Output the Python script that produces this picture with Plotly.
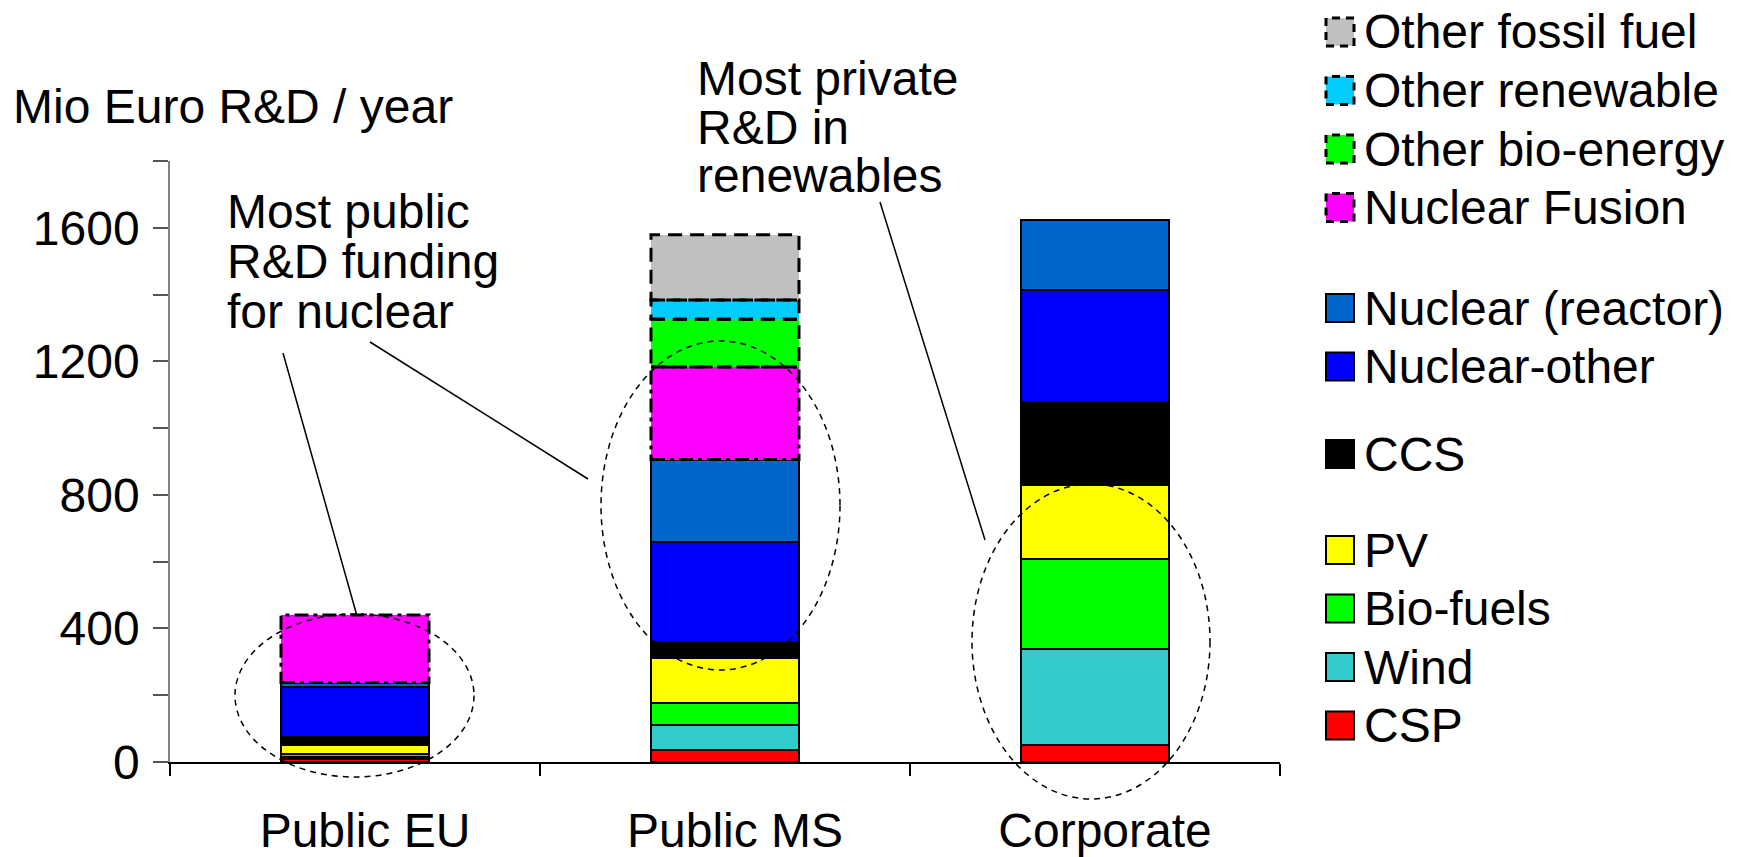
import plotly.graph_objects as go

# ---- data (Mio Euro R&D per year) ----
categories = ["Public EU", "Public MS", "Corporate"]

csp = [8, 35, 52]
wind = [6, 75, 286]
biofuels = [10, 68, 270]
pv = [28, 133, 222]
ccs = [24, 47, 249]
nuclear_other = [150, 302, 335]
nuclear_reactor = [12, 246, 210]
nuclear_fusion = [202, 277, 0]
other_bioenergy = [0, 143, 0]
other_renewable = [0, 58, 0]
other_fossil = [0, 195, 0]

# stacking order, bottom to top: (name, values, fill colour, outline style)
series = [
    ("CSP", csp, "#FF0000", "solid"),
    ("Wind", wind, "#33CCCC", "solid"),
    ("Bio-fuels", biofuels, "#00FF00", "solid"),
    ("PV", pv, "#FFFF00", "solid"),
    ("CCS", ccs, "#000000", "solid"),
    ("Nuclear-other", nuclear_other, "#0000FF", "solid"),
    ("Nuclear (reactor)", nuclear_reactor, "#0066CC", "solid"),
    ("Nuclear Fusion", nuclear_fusion, "#FF00FF", "dashdot"),
    ("Other bio-energy", other_bioenergy, "#00FF00", "dash"),
    ("Other renewable", other_renewable, "#00CCFF", "dash"),
    ("Other fossil fuel", other_fossil, "#C0C0C0", "dash"),
]

# legend groups, top to bottom
legend_groups = [
    ["Other fossil fuel", "Other renewable", "Other bio-energy", "Nuclear Fusion"],
    ["Nuclear (reactor)", "Nuclear-other"],
    ["CCS"],
    ["PV", "Bio-fuels", "Wind", "CSP"],
]

DASHES = {"dash": "14px,8px", "dashdot": "14px,5px,4px,5px"}

FONT = "Liberation Sans, Arial, sans-serif"
FS = 48
W, H = 1740, 857
L, R, T, B = 170, 460, 161, 95
PW, PH = W - L - R, H - T - B
BAR_W = 0.4
Y_MAX = 1800


def px_x(px):
    return (px - L) / PW


def px_y(py):
    return (H - B - py) / PH


fig = go.Figure()

for name, vals, color, style in series:
    fig.add_trace(go.Bar(
        x=categories, y=vals, name=name, width=BAR_W,
        marker=dict(color=color,
                    line=dict(color="black", width=2 if style == "solid" else 0)),
        hoverinfo="name+y",
    ))

shapes = []

# dashed outlines for the "other"/fusion segments
base = [0.0] * len(categories)
for name, vals, color, style in series:
    for i, v in enumerate(vals):
        if style != "solid" and v > 0:
            shapes.append(dict(
                type="rect", xref="x", yref="y",
                x0=i - BAR_W / 2, x1=i + BAR_W / 2,
                y0=base[i], y1=base[i] + v,
                line=dict(color="black", width=3, dash=DASHES[style]),
                fillcolor="rgba(0,0,0,0)", layer="above",
            ))
        base[i] += v

# highlight ellipses (pixel boxes)
for (x0, y0, x1, y1) in [(235, 614, 474, 777), (601, 341, 840, 670), (972, 484, 1210, 799)]:
    shapes.append(dict(type="circle", xref="paper", yref="paper",
                       x0=px_x(x0), x1=px_x(x1), y0=px_y(y1), y1=px_y(y0),
                       line=dict(color="black", width=1.5, dash="6px,5px")))

# leader lines from the notes
for (x0, y0, x1, y1) in [(283, 353, 357, 616), (370, 342, 588, 479), (880, 202, 985, 540)]:
    shapes.append(dict(type="line", xref="paper", yref="paper",
                       x0=px_x(x0), y0=px_y(y0), x1=px_x(x1), y1=px_y(y1),
                       line=dict(color="black", width=1.5)))

annotations = []


def note(text, x, y, anchor="left"):
    annotations.append(dict(text=text, xref="paper", yref="paper",
                            x=px_x(x), y=px_y(y), xanchor=anchor, yanchor="middle",
                            showarrow=False, font=dict(family=FONT, size=FS, color="black")))


note("Mio Euro R&amp;D / year", 11, 106)
for k, line in enumerate(["Most public", "R&amp;D funding", "for nuclear"]):
    note(line, 225, 211 + 50 * k)
for k, line in enumerate(["Most private", "R&amp;D in", "renewables"]):
    note(line, 695, 79 + 48 * k)

# legend
style_of = {s[0]: s for s in series}
group_top = [32, 308, 454, 550]
row_step = 58.5
sq = 28
for g, names in enumerate(legend_groups):
    for k, name in enumerate(names):
        _, _, color, style = style_of[name]
        cy = group_top[g] + row_step * k
        shapes.append(dict(type="rect", xref="paper", yref="paper",
                           x0=px_x(1326), x1=px_x(1326 + sq),
                           y0=px_y(cy + sq / 2), y1=px_y(cy - sq / 2),
                           fillcolor=color,
                           line=dict(color="black", width=2 if style == "solid" else 3,
                                     dash="solid" if style == "solid" else "8px,6px")))
        note(name, 1362, cy)

fig.update_layout(
    barmode="stack",
    width=W, height=H, autosize=False,
    margin=dict(l=L, r=R, t=T, b=B),
    paper_bgcolor="white", plot_bgcolor="white",
    showlegend=False,
    font=dict(family=FONT, size=FS, color="black"),
    shapes=shapes, annotations=annotations,
    xaxis=dict(
        type="category", range=[-0.5, 2.5], automargin=False,
        showline=True, linecolor="black", linewidth=1.5,
        ticks="outside", tickson="boundaries", ticklen=12, tickcolor="black", tickwidth=1.5,
        showgrid=False, zeroline=False,
        tickfont=dict(family=FONT, size=FS, color="black"),
        ticklabelstandoff=26, ticklabelshift=10,
    ),
    yaxis=dict(
        range=[0, Y_MAX], automargin=False,
        tickvals=list(range(0, Y_MAX + 1, 200)),
        ticktext=[str(v) if v % 400 == 0 else "" for v in range(0, Y_MAX + 1, 200)],
        showline=True, linecolor="#808080", linewidth=1.5,
        ticks="outside", ticklen=15, tickcolor="#555555", tickwidth=1.5,
        showgrid=False, zeroline=False,
        tickfont=dict(family=FONT, size=FS, color="black"),
        ticklabelstandoff=4,
    ),
)

fig.write_html("out.html")
